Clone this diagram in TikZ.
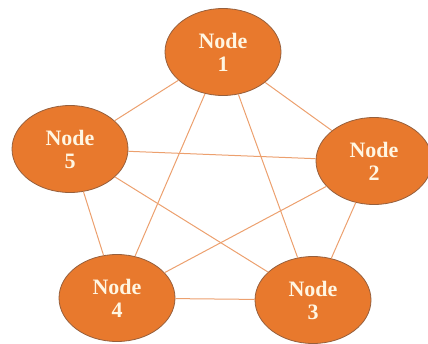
\documentclass[tikz,border=0pt]{standalone}
\usepackage{fontspec}
\setmainfont{Liberation Serif}
\usetikzlibrary{shapes.geometric}
\definecolor{nodeorange}{RGB}{232,121,45}
\definecolor{rimbrown}{RGB}{150,95,60}
\definecolor{lineorange}{RGB}{236,160,110}
\definecolor{textcream}{RGB}{255,246,226}

\begin{document}
\begin{tikzpicture}[x=1pt, y=-1pt,
    netnode/.style={ellipse, fill=nodeorange, draw=rimbrown, line width=0.8pt,
      minimum width=116pt, minimum height=87pt, inner sep=0pt,
      align=center, text=textcream,
      font=\fontsize{22}{23}\selectfont\bfseries},
    link/.style={lineorange, line width=1pt}]
  \useasboundingbox (0,0) rectangle (428,343);

  % nodes
  \node[netnode] (n1) at (223,52) {Node\\1};
  \node[netnode] (n2) at (374,161) {Node\\2};
  \node[netnode] (n3) at (313,300) {Node\\3};
  \node[netnode] (n4) at (117,298) {Node\\4};
  \node[netnode] (n5) at (70,149) {Node\\5};

  % every pair is linked
  \foreach \a/\b in {1/2, 1/3, 1/4, 1/5, 2/3, 2/4, 2/5, 3/4, 3/5, 4/5}
    \draw[link] (n\a) -- (n\b);
\end{tikzpicture}
\end{document}
